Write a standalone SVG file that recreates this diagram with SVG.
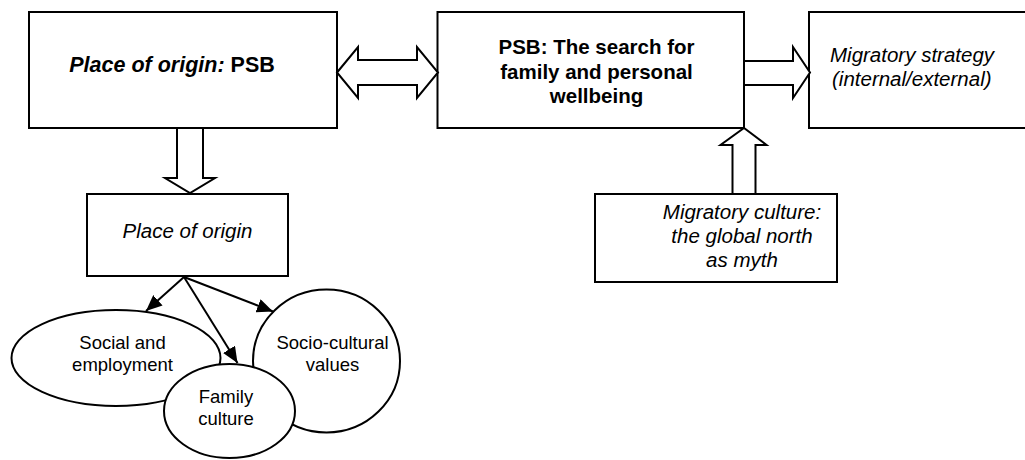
<svg xmlns="http://www.w3.org/2000/svg" width="1025" height="460" viewBox="0 0 1025 460">
<style>
.box{fill:#fff;stroke:#000;stroke-width:2}
.ell{fill:#fff;stroke:#000;stroke-width:2}
.blk{fill:#fff;stroke:#000;stroke-width:2;stroke-linejoin:miter}
.ln{stroke:#000;stroke-width:2;fill:none}
.t{font-family:"Liberation Sans",Arial,sans-serif;font-size:20.5px;fill:#000}
.e{font-family:"Liberation Sans",Arial,sans-serif;font-size:18.5px;fill:#000;text-anchor:middle}
.b{font-weight:bold}
.i{font-style:italic}
.m{text-anchor:middle}
</style>
<defs>
<marker id="ah2" viewBox="0 0 16 14" refX="16" refY="7" markerWidth="16" markerHeight="14" markerUnits="userSpaceOnUse" orient="auto">
<path d="M0,0 L16,7 L0,14 Z" fill="#000"/>
</marker>
</defs>
<g id="node-place-psb">
<rect class="box" x="29" y="12" width="308" height="116"/>
<text class="t b m" x="172" y="72" style="font-size:21.5px"><tspan class="i">Place of origin:</tspan> PSB</text>
</g>
<g id="node-search">
<rect class="box" x="437.5" y="12" width="306.5" height="116"/>
<text class="t b m" x="596.5" y="53.5">PSB: The search for</text>
<text class="t b m" x="596.5" y="78.5">family and personal</text>
<text class="t b m" x="596.5" y="103">wellbeing</text>
</g>
<g id="node-strategy">
<rect class="box" x="809" y="12" width="230" height="116"/>
<text class="t i" x="830" y="62">Migratory strategy</text>
<text class="t i" x="832" y="86">(internal/external)</text>
</g>
<g id="node-origin">
<rect class="box" x="87" y="194" width="201" height="82"/>
<text class="t i m" x="187.5" y="238">Place of origin</text>
</g>
<g id="node-culture">
<rect class="box" x="595" y="194" width="242" height="88"/>
<text class="t i m" x="742" y="218.5">Migratory culture:</text>
<text class="t i m" x="742" y="243">the global north</text>
<text class="t i m" x="742" y="267">as myth</text>
</g>
<g id="node-social">
<ellipse class="ell" cx="116" cy="358" rx="104.5" ry="48"/>
<text class="e" x="122.5" y="349">Social and</text>
<text class="e" x="122.5" y="371">employment</text>
</g>
<g id="node-values">
<ellipse class="ell" cx="326.5" cy="361" rx="73.5" ry="71.5"/>
<text class="e" x="332.5" y="348.5">Socio-cultural</text>
<text class="e" x="332.5" y="371">values</text>
</g>
<g id="node-family">
<ellipse class="ell" cx="229.5" cy="411" rx="65.5" ry="47"/>
<text class="e" x="226" y="403">Family</text>
<text class="e" x="226" y="425">culture</text>
</g>
<g id="connectors">
<polygon class="blk" points="337,72.5 358,47 358,60 417,60 417,47 438,72.5 417,98 417,85 358,85 358,98"/>
<polygon class="blk" points="744,61 793,61 793,47 810,72.5 793,98 793,85 744,85"/>
<polygon class="blk" points="177,128 203,128 203,178 215,178 190,193 165,178 177,178"/>
<polygon class="blk" points="732.5,194 732.5,145 720.5,145 744,128 766.5,145 755.5,145 755.5,194"/>
<line class="ln" x1="184" y1="277" x2="146" y2="311" marker-end="url(#ah2)"/>
<line class="ln" x1="184" y1="277" x2="237.5" y2="363" marker-end="url(#ah2)"/>
<line class="ln" x1="184" y1="277" x2="273" y2="311.5" marker-end="url(#ah2)"/>
</g>
</svg>
